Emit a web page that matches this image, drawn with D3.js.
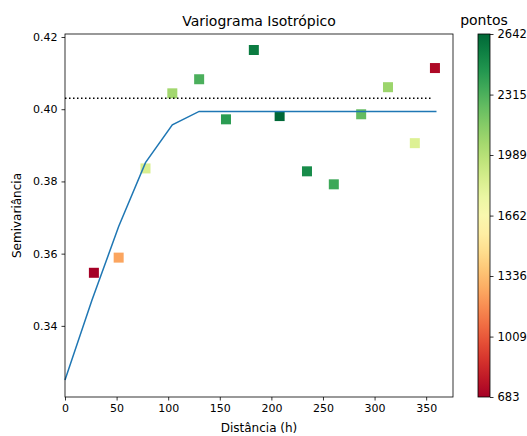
<!DOCTYPE html>
<html>
<head>
<meta charset="utf-8">
<script src="https://cdn.jsdelivr.net/npm/d3@7"></script>
<style>
  body { margin: 0; background: #fff; }
  svg { font-family: "DejaVu Sans", sans-serif; }
</style>
</head>
<body>
<div id="chart"></div>
<script>
// experimental semivariogram: lag distance, semivariance, number of pairs
const lags = [28, 52, 78, 104, 130, 156, 183, 208, 234.5, 260.5, 287, 313, 339, 358.5];
const gamma = [0.3547, 0.3589, 0.3836, 0.4044, 0.4083, 0.3972, 0.4164, 0.3981, 0.3828, 0.3792, 0.3986, 0.4061, 0.3906, 0.4114];
const pairs = [683, 1250, 1850, 2060, 2320, 2420, 2560, 2642, 2490, 2360, 2250, 2080, 1830, 720];

// fitted model (spherical) evaluated at these distances
const modelH = [0, 26, 52, 78, 104, 130, 180, 240, 300, 360];
const modelG = [0.325, 0.347, 0.3675, 0.3852, 0.3957, 0.3994, 0.3994, 0.3994, 0.3994, 0.3994];

const sillValue = 0.40306;
const sillEnd = 356;

const xTicks = [0, 50, 100, 150, 200, 250, 300, 350];
const yTicks = [0.34, 0.36, 0.38, 0.40, 0.42];
const cbTicks = [683, 1009, 1336, 1662, 1989, 2315, 2642];

const width = 527, height = 436;
const margin = { top: 34, right: 74, bottom: 39, left: 65 };

const svg = d3.select("#chart").append("svg")
  .attr("width", width)
  .attr("height", height);

const x = d3.scaleLinear().domain([0, 376]).range([margin.left, width - margin.right]);
const y = d3.scaleLinear().domain([0.3203, 0.42083]).range([height - margin.bottom, margin.top]);
const color = d3.scaleSequential(d3.interpolateRdYlGn).domain([683, 2642]);

// points
const sq = 10;
svg.append("g")
  .selectAll("rect")
  .data(lags)
  .enter()
  .append("rect")
  .attr("x", (d) => x(d) - sq / 2)
  .attr("y", (d, i) => y(gamma[i]) - sq / 2)
  .attr("width", sq)
  .attr("height", sq)
  .attr("fill", (d, i) => color(pairs[i]));

// model line
const line = d3.line().x((d) => x(d[0])).y((d) => y(d[1]));
svg.append("path")
  .datum(modelH.map((h, i) => [h, modelG[i]]))
  .attr("d", line)
  .attr("fill", "none")
  .attr("stroke", "#1f77b4")
  .attr("stroke-width", 1.5);

// sill (dotted)
svg.append("line")
  .attr("x1", x(0)).attr("x2", x(sillEnd))
  .attr("y1", y(sillValue)).attr("y2", y(sillValue))
  .attr("stroke", "#000")
  .attr("stroke-width", 1.5)
  .attr("stroke-dasharray", "1.5,2.5");

// axes
const xAxis = svg.append("g")
  .attr("transform", `translate(0,${height - margin.bottom})`)
  .call(d3.axisBottom(x).tickValues(xTicks).tickSize(3.5).tickPadding(4).tickFormat(d3.format("d")));
const yAxis = svg.append("g")
  .attr("transform", `translate(${margin.left},0)`)
  .call(d3.axisLeft(y).tickValues(yTicks).tickSize(3.5).tickPadding(4).tickFormat(d3.format(".2f")));
[xAxis, yAxis].forEach((a) => {
  a.select(".domain").remove();
  a.selectAll("text").attr("font-size", 11).attr("fill", "#000").attr("font-family", "DejaVu Sans");
  a.selectAll("line").attr("stroke", "#000").attr("stroke-width", 0.8);
});

// frame
svg.append("rect")
  .attr("x", margin.left).attr("y", margin.top)
  .attr("width", width - margin.left - margin.right)
  .attr("height", height - margin.top - margin.bottom)
  .attr("fill", "none")
  .attr("stroke", "#000")
  .attr("stroke-width", 0.8);

// labels
svg.append("text")
  .attr("x", (margin.left + width - margin.right) / 2)
  .attr("y", 26)
  .attr("text-anchor", "middle")
  .attr("font-size", 14)
  .text("Variograma Isotrópico");
svg.append("text")
  .attr("x", (margin.left + width - margin.right) / 2)
  .attr("y", 432)
  .attr("text-anchor", "middle")
  .attr("font-size", 12)
  .text("Distância (h)");
svg.append("text")
  .attr("transform", `translate(21,${(margin.top + height - margin.bottom) / 2}) rotate(-90)`)
  .attr("text-anchor", "middle")
  .attr("font-size", 12)
  .text("Semivariância");

// colorbar
const cbX = 478, cbW = 12;
const cbY = d3.scaleLinear().domain([683, 2642]).range([height - margin.bottom, margin.top]);
const defs = svg.append("defs");
const grad = defs.append("linearGradient")
  .attr("id", "cbgrad")
  .attr("x1", 0).attr("y1", 1).attr("x2", 0).attr("y2", 0);
d3.range(0, 1.0001, 0.05).forEach((t) => {
  grad.append("stop")
    .attr("offset", t)
    .attr("stop-color", d3.interpolateRdYlGn(t));
});
svg.append("rect")
  .attr("x", cbX).attr("y", margin.top)
  .attr("width", cbW)
  .attr("height", height - margin.top - margin.bottom)
  .attr("fill", "url(#cbgrad)")
  .attr("stroke", "#000")
  .attr("stroke-width", 0.8);
const cbAxis = svg.append("g")
  .attr("transform", `translate(${cbX + cbW},0)`)
  .call(d3.axisRight(cbY).tickValues(cbTicks).tickSize(3.5).tickPadding(4).tickFormat(d3.format("d")));
cbAxis.select(".domain").remove();
cbAxis.selectAll("text").attr("font-size", 11.5).attr("fill", "#000").attr("font-family", "DejaVu Sans");
cbAxis.selectAll("line").attr("stroke", "#000").attr("stroke-width", 0.8);
svg.append("text")
  .attr("x", cbX + cbW / 2)
  .attr("y", 25)
  .attr("text-anchor", "middle")
  .attr("font-size", 14)
  .text("pontos");
</script>
</body>
</html>
